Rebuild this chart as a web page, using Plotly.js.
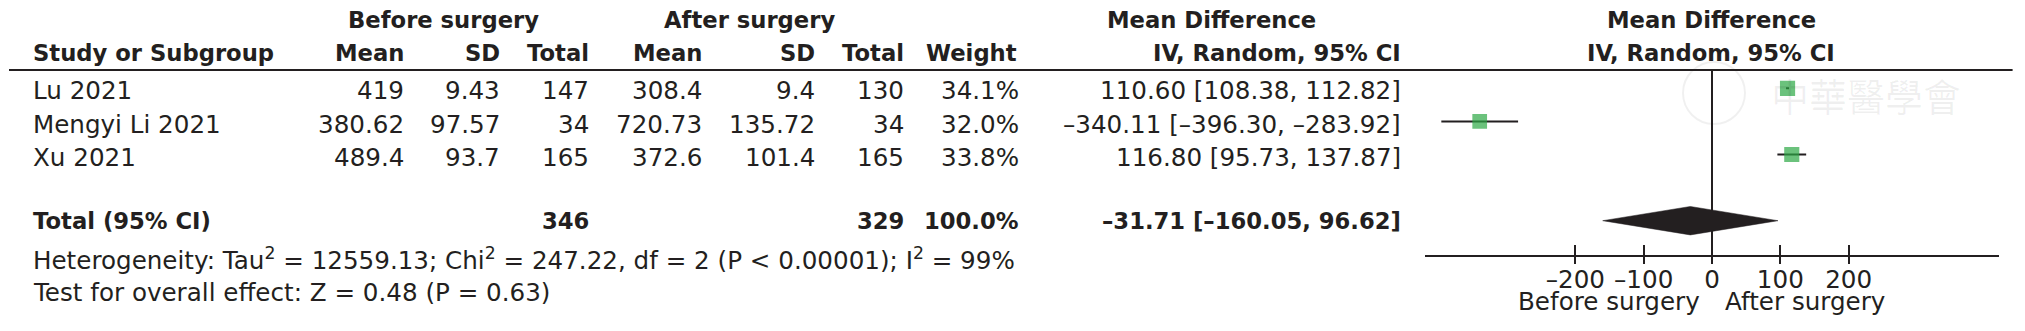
<!DOCTYPE html>
<html>
<head>
<meta charset="utf-8">
<script src="https://cdn.plot.ly/plotly-3.0.1.min.js"></script>
<style>
  html, body { margin: 0; padding: 0; background: #ffffff; }
  #chart { width: 2025px; height: 331px; }
</style>
</head>
<body>
<div id="chart"></div>
<script>
// ---------------- data ----------------
const studies     = ['Lu 2021', 'Mengyi Li 2021', 'Xu 2021'];
const beforeMean  = [419, 380.62, 489.4];
const beforeSD    = [9.43, 97.57, 93.7];
const beforeN     = [147, 34, 165];
const afterMean   = [308.4, 720.73, 372.6];
const afterSD     = [9.4, 135.72, 101.4];
const afterN      = [130, 34, 165];
const weights     = [34.1, 32.0, 33.8];
const md          = [110.60, -340.11, 116.80];
const ciLow       = [108.38, -396.30, 95.73];
const ciHigh      = [112.82, -283.92, 137.87];

const totalLabel   = 'Total (95% CI)';
const totalBeforeN = 346;
const totalAfterN  = 329;
const totalWeight  = 100.0;
const totalMD      = -31.71;
const totalLow     = -160.05;
const totalHigh    = 96.62;

const tau2 = '12559.13';
const chi2 = '247.22';
const dfVal = 2;
const hetP = '< 0.00001';
const i2 = 99;
const zVal = '0.48';
const zP = '0.63';

const tickVals   = [-200, -100, 0, 100, 200];
const tickLabels = ['–200', '–100', '0', '100', '200'];
const leftFavour  = 'Before surgery';
const rightFavour = 'After surgery';
const watermark = '中華醫學會';

// ---------------- helpers ----------------
const W = 2025, H = 331;
const X = p => p / W;
const Y = p => 1 - p / H;
const dash = s => String(s).replace(/-/g, '–');
const f2 = v => dash(v.toFixed(2));
const ciText = (m, lo, hi) => `${f2(m)} [${f2(lo)}, ${f2(hi)}]`;

const INK = '#231f20';
const GREEN = '#2ca844';
const FONT = 'DejaVu Sans';
const REG = 24.6;
const BOLD = 22.7;

// table layout (pixel positions)
const colStudy = 30.7;
const colRight = {
  bMean: 406, bSD: 502.3, bN: 590.7,
  aMean: 704, aSD: 816.7, aN: 905.7,
  weight: 1020.7, ci: 1403.3
};
const rowTextY = i => 90.7 + 33.3 * i;
const totalTextY = 220.7;

const annotations = [];
function txt(text, xpx, ypx, anchor, size, bold, color) {
  annotations.push({
    text: bold ? '<b>' + text + '</b>' : text,
    xref: 'paper', yref: 'paper',
    x: X(xpx), y: Y(ypx),
    xanchor: anchor, yanchor: 'middle',
    showarrow: false,
    font: { family: FONT, size: size, color: color || INK }
  });
}

// headers
txt('Before surgery', 443.7, 20, 'center', BOLD, true);
txt('After surgery', 749.7, 20, 'center', BOLD, true);
txt('Mean Difference', 1211.7, 20, 'center', BOLD, true);
txt('Mean Difference', 1711, 20, 'center', BOLD, true);
txt('Study or Subgroup', colStudy, 52.8, 'left', BOLD, true);
txt('Mean', colRight.bMean, 52.8, 'right', BOLD, true);
txt('SD', colRight.bSD, 52.8, 'right', BOLD, true);
txt('Total', colRight.bN, 52.8, 'right', BOLD, true);
txt('Mean', colRight.aMean, 52.8, 'right', BOLD, true);
txt('SD', colRight.aSD, 52.8, 'right', BOLD, true);
txt('Total', colRight.aN, 52.8, 'right', BOLD, true);
txt('Weight', colRight.weight - 1.7, 52.8, 'right', BOLD, true);
txt('IV, Random, 95% CI', colRight.ci, 52.8, 'right', BOLD, true);
txt('IV, Random, 95% CI', 1711, 52.8, 'center', BOLD, true);

// study rows
studies.forEach((s, i) => {
  const y = rowTextY(i);
  txt(s, colStudy, y, 'left', REG, false);
  txt(String(beforeMean[i]), colRight.bMean, y, 'right', REG, false);
  txt(String(beforeSD[i]), colRight.bSD, y, 'right', REG, false);
  txt(String(beforeN[i]), colRight.bN, y, 'right', REG, false);
  txt(String(afterMean[i]), colRight.aMean, y, 'right', REG, false);
  txt(String(afterSD[i]), colRight.aSD, y, 'right', REG, false);
  txt(String(afterN[i]), colRight.aN, y, 'right', REG, false);
  txt(weights[i].toFixed(1) + '%', colRight.weight, y, 'right', REG, false);
  txt(ciText(md[i], ciLow[i], ciHigh[i]), colRight.ci, y, 'right', REG, false);
});

// total row
txt(totalLabel, colStudy, totalTextY, 'left', BOLD, true);
txt(String(totalBeforeN), colRight.bN, totalTextY, 'right', BOLD, true);
txt(String(totalAfterN), colRight.aN, totalTextY, 'right', BOLD, true);
txt(totalWeight.toFixed(1) + '%', colRight.weight, totalTextY, 'right', BOLD, true);
txt(ciText(totalMD, totalLow, totalHigh), colRight.ci, totalTextY, 'right', BOLD, true);

// statistics
txt(`Heterogeneity: Tau<sup>2</sup> = ${tau2}; Chi<sup>2</sup> = ${chi2}, df = ${dfVal} (P ${hetP}); I<sup>2</sup> = ${i2}%`,
    colStudy, 259, 'left', REG, false);
txt(`Test for overall effect: Z = ${zVal} (P = ${zP})`, colStudy, 292.3, 'left', REG, false);

// favour labels
txt(leftFavour, 1702, 301, 'right', REG, false);
txt(rightFavour, 1722.8, 301, 'left', REG, false);

// watermark
annotations.push({
  text: watermark, xref: 'paper', yref: 'paper',
  x: X(1866), y: Y(95), xanchor: 'center', yanchor: 'middle', showarrow: false,
  font: { family: 'Noto Sans CJK TC', size: 38, color: 'rgba(0,0,0,0.06)' }
});

// ---------------- forest plot traces ----------------
const studyRows = studies.map((_, i) => i);
const totalRow = 4;
const diamondHalf = 0.43;

const ciX = [], ciY = [];
studies.forEach((_, i) => {
  ciX.push(ciLow[i], ciHigh[i], null);
  ciY.push(studyRows[i], studyRows[i], null);
});

const traces = [
  {
    type: 'scatter', mode: 'lines', x: ciX, y: ciY,
    line: { color: INK, width: 2 }, hoverinfo: 'skip', showlegend: false
  },
  {
    type: 'scatter', mode: 'markers', x: md, y: studyRows,
    marker: { symbol: 'square', color: GREEN, size: weights.map(w => 2.6 * Math.sqrt(w)), line: { width: 0 } },
    hoverinfo: 'skip', showlegend: false
  },
  {
    type: 'scatter', mode: 'lines', fill: 'toself',
    x: [totalLow, totalMD, totalHigh, totalMD, totalLow],
    y: [totalRow, totalRow - diamondHalf, totalRow, totalRow + diamondHalf, totalRow],
    fillcolor: INK, line: { color: INK, width: 0.5 }, hoverinfo: 'skip', showlegend: false
  },
  {
    type: 'scatter', mode: 'markers', x: [0], y: [0], xaxis: 'x2', yaxis: 'y',
    marker: { opacity: 0 }, hoverinfo: 'skip', showlegend: false
  }
];

const zeroPx = 1712, pxPerUnit = 0.683, half = 420;
const axisDomain = [X(zeroPx - half * pxPerUnit), X(zeroPx + half * pxPerUnit)];

const layout = {
  width: W, height: H,
  margin: { l: 0, r: 0, t: 0, b: 0, pad: 0 },
  paper_bgcolor: '#ffffff', plot_bgcolor: 'rgba(0,0,0,0)',
  showlegend: false,
  font: { family: FONT, color: INK },
  xaxis: {
    domain: axisDomain, range: [-half, half], anchor: 'y',
    showgrid: false, zeroline: false,
    showline: true, linecolor: INK, linewidth: 2,
    ticks: 'inside', ticklen: 10, tickwidth: 2, tickcolor: INK,
    tickmode: 'array', tickvals: tickVals, ticktext: tickLabels,
    tickfont: { family: FONT, size: REG, color: INK },
    ticklabelstandoff: 1,
    fixedrange: true
  },
  xaxis2: {
    domain: axisDomain, range: [-half, half], anchor: 'y', overlaying: 'x', side: 'bottom',
    showgrid: false, zeroline: false, showline: false,
    ticks: 'outside', ticklen: 8, tickwidth: 2, tickcolor: INK,
    tickmode: 'array', tickvals: tickVals, showticklabels: false,
    fixedrange: true
  },
  yaxis: {
    domain: [Y(255.3), Y(70)],
    range: [(255.3 - 88.3) / 33.1, (70 - 88.3) / 33.1],
    visible: false, showgrid: false, zeroline: false, fixedrange: true
  },
  shapes: [
    { type: 'line', xref: 'paper', yref: 'paper', x0: X(9), x1: X(2012.6), y0: Y(70), y1: Y(70),
      line: { color: INK, width: 2 } },
    { type: 'line', xref: 'x', yref: 'paper', x0: 0, x1: 0, y0: Y(263.3), y1: Y(70),
      line: { color: INK, width: 2 } },
    { type: 'circle', xref: 'paper', yref: 'paper', x0: X(1683), x1: X(1745), y0: Y(124), y1: Y(62),
      line: { color: 'rgba(0,0,0,0.06)', width: 2 }, layer: 'below' }
  ],
  annotations: annotations
};

Plotly.newPlot('chart', traces, layout, { staticPlot: true, displayModeBar: false });
</script>
</body>
</html>
